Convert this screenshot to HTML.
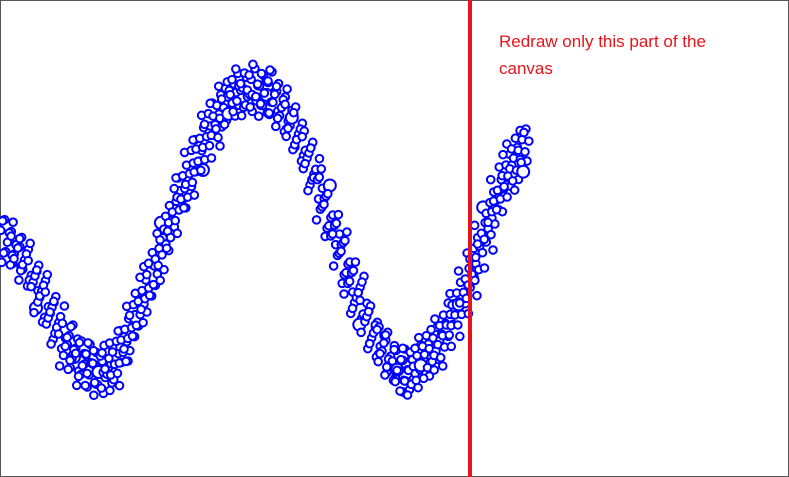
<!DOCTYPE html>
<html>
<head>
<meta charset="utf-8">
<style>
  html, body { margin: 0; padding: 0; background: #fff; }
  #wrap { position: relative; width: 789px; height: 477px; overflow: hidden; }
  svg { display: block; }
</style>
</head>
<body>
<div id="wrap">
<svg id="chart" width="789" height="477" viewBox="0 0 789 477">
  <rect x="0.5" y="0.5" width="788" height="476" fill="#fff" stroke="#555" stroke-width="1"/>
  <g id="points"></g>
  <line x1="470" y1="0" x2="470" y2="477" stroke="#e8141b" stroke-width="4"/>
  <text x="499" y="47" font-family="'Liberation Sans', sans-serif" font-size="17" fill="#e8141b">Redraw only this part of the</text>
  <text x="499" y="74" font-family="'Liberation Sans', sans-serif" font-size="17" fill="#e8141b">canvas</text>
</svg>
</div>
<script>
// Centreline of the point cloud (x position, value)
const sampleX = [0, 20, 40, 60, 80, 95, 110, 130, 150, 170, 190, 210, 230, 250, 270, 290, 310, 330, 350, 370, 390, 405, 420, 440, 460, 475, 490, 505, 522];
const sampleValues = [240, 217, 177, 137, 112, 105, 112, 157, 207, 265, 312, 357, 383, 388, 380, 350, 305, 247, 187, 142, 112, 102, 117, 142, 182, 227, 272, 307, 332];

function xScale(x) { return 4 + x; }
function yScale(v) { return 477 - v; }

const g = document.getElementById('points');
const NS = 'http://www.w3.org/2000/svg';
const offsets = [-20, -10, 0, 10, 20];
let k = 0;
for (let i = 0; i < sampleX.length - 1; i++) {
  const x0 = sampleX[i], x1 = sampleX[i + 1];
  const v0 = sampleValues[i], v1 = sampleValues[i + 1];
  for (let x = x0; x < x1; x += 4) {
    const t = (x - x0) / (x1 - x0);
    const v = v0 + (v1 - v0) * t;
    for (let j = 0; j < offsets.length; j++) {
      k++;
      const jx = ((k * 7919) % 23 - 11) / 11 * 6;
      const jy = ((k * 104729) % 19 - 9) / 9 * 6;
      const c = document.createElementNS(NS, 'circle');
      c.setAttribute('cx', xScale(x + jx));
      c.setAttribute('cy', yScale(v + offsets[j] + jy));
      c.setAttribute('r', (k % 41 === 0) ? 6 : 3.8);
      c.setAttribute('fill', '#fff');
      c.setAttribute('stroke', '#0000ff');
      c.setAttribute('stroke-width', '2');
      
      
      g.appendChild(c);
    }
  }
}
</script>
</body>
</html>
